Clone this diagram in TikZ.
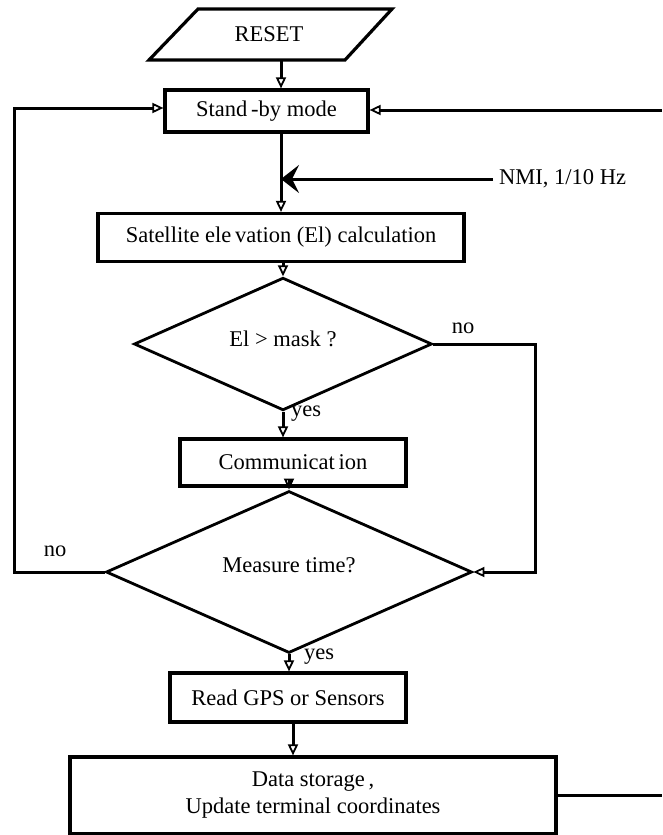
\documentclass[tikz,border=0pt]{standalone}
\usepackage{fontspec}
\setmainfont{Liberation Serif}
\usetikzlibrary{arrows.meta,shapes.geometric}
\begin{document}
\begin{tikzpicture}[x=1pt,y=-1pt,
  txt/.style={font=\fontsize{22.5}{27}\selectfont},
  procbox/.style={draw, line width=3.2pt, inner sep=0pt, txt},
  decbox/.style={draw, diamond, line width=2.8pt, inner sep=0pt, txt},
  conn/.style={line width=3pt},
  arr/.style={conn, -{Triangle[open, length=11pt, width=10pt, line width=1.8pt]}},
  bigarr/.style={conn, -{Stealth[length=18pt, width=28pt, inset=7pt]}},
  lbl/.style={txt, inner sep=0pt},
]
\useasboundingbox (0,0) rectangle (662,835);
\coordinate (vx) at (281,0);
\coordinate (vx2) at (293,0);
\coordinate (rx) at (535,0);
\coordinate (lx) at (14,0);
\coordinate (edge) at (662,0);

% RESET parallelogram
\draw[line width=3.2pt] (198,9) -- (392,9) -- (345,60) -- (149,60) -- cycle;
\node[txt, minimum width=150pt, minimum height=51pt, inner sep=0pt] (reset) at (269,34.5) {RESET};

\node[procbox, minimum width=203pt, minimum height=42pt] (standby) at (266.5,111) {Stand\,-by mode};
\node[procbox, minimum width=366pt, minimum height=48pt] (sat) at (281,237.5) {Satellite ele\,vation (El) calculation};
\node[decbox, minimum width=298pt, minimum height=122pt] (d1) at (283,344) {\raisebox{10pt}{El > mask ?}};
\node[procbox, minimum width=226pt, minimum height=47pt] (comm) at (293,462.5) {Communicat\,ion};
\node[decbox, minimum width=366pt, minimum height=122pt] (d2) at (289,572) {\raisebox{14pt}{Measure time?}};
\node[procbox, minimum width=236pt, minimum height=49pt] (read) at (288,697.5) {Read GPS or Sensors};
\node[procbox, minimum width=486pt, minimum height=77pt, align=center] (data) at (313,795.5) {Data storage\,,\\Update terminal coordinates};

% labels
\node[lbl, anchor=west] (nmi) at (499,179) {NMI, 1/10 Hz};
\node[lbl] (no1) at (463,328) {no};
\node[lbl] (no2) at (55,551) {no};
\node[lbl, anchor=west] (yes1) at (291,414) {yes};
\node[lbl, anchor=west] (yes2) at (304,657) {yes};

% connectors
\draw[arr] (reset.south -| vx) -- (standby.north -| vx);
\draw[arr] (standby.south -| vx) -- (sat.north -| vx);
\draw[bigarr, shorten <=6pt] (nmi.west) -- (nmi.west -| vx);
\draw[arr] (sat.south -| d1.north) -- (d1.north);
\draw[arr] (d1.south) -- (d1.south |- comm.north);
\draw[arr] (comm.south -| d2.north) -- (d2.north);
\draw[arr] (d2.south) -- (d2.south |- read.north);
\draw[arr] (read.south -| vx2) -- (data.north -| vx2);
\draw[arr] (d1.east) -| (rx |- d2.east) -- (d2.east);
\draw[arr] (d2.west) -| (lx |- 0,108) -- (standby.west |- 0,108);
\draw[arr] (edge |- 0,110) -- (standby.east |- 0,110);
\draw[conn] (data.east) -- (data.east -| edge);
\end{tikzpicture}
\end{document}
